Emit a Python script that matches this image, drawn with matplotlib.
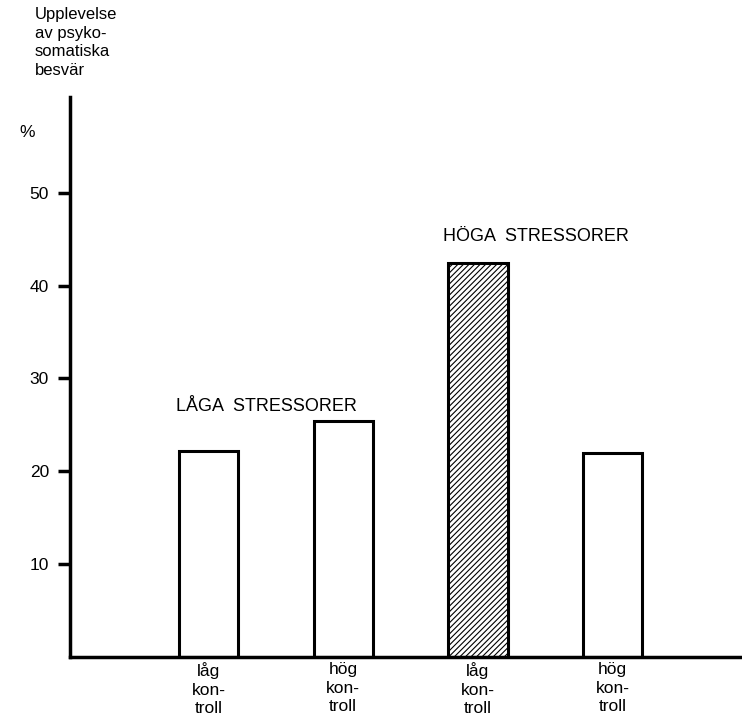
import matplotlib.pyplot as plt

plt.rcParams['font.family'] = ['Liberation Sans', 'DejaVu Sans']
plt.rcParams['hatch.linewidth'] = 0.8

# Data
kategorier = ['låg\nkon-\ntroll', 'hög\nkon-\ntroll', 'låg\nkon-\ntroll', 'hög\nkon-\ntroll']
procent = [22.2, 25.4, 42.5, 22.0]
skrafferad = [False, False, True, False]
y_ticks = [10, 20, 30, 40, 50]

fig = plt.figure(figsize=(7.42, 7.16), dpi=100)
ax = fig.add_axes([0.094, 0.083, 0.906, 0.782])

x = range(len(procent))
for xi, v, h in zip(x, procent, skrafferad):
    ax.bar(xi, v, width=0.44, facecolor='white', edgecolor='black',
           linewidth=2.2, hatch='//////' if h else None)

ax.set_xlim(-1.03, 3.96)
ax.set_ylim(0, 60.4)

ax.spines['top'].set_visible(False)
ax.spines['right'].set_visible(False)
ax.spines['left'].set_linewidth(2.5)
ax.spines['bottom'].set_linewidth(2.5)

ax.set_yticks(y_ticks)
ax.set_yticklabels([str(t) for t in y_ticks], fontsize=12.5)
ax.tick_params(axis='y', length=9, width=2.5, pad=6)
ax.set_xticks(list(x))
ax.set_xticklabels(kategorier, fontsize=12.5, linespacing=1.3)
ax.tick_params(axis='x', length=0, pad=4)

ax.text(-0.24, 27.0, 'LÅGA  STRESSORER', fontsize=13, va='center', ha='left')
ax.text(1.74, 45.3, 'HÖGA  STRESSORER', fontsize=13, va='center', ha='left')

fig.text(0.047, 0.99, 'Upplevelse\nav psyko-\nsomatiska\nbesvär', fontsize=12,
         va='top', ha='left', linespacing=1.3)
fig.text(0.026, 0.815, '%', fontsize=12.5, va='center', ha='left')

fig.savefig('out.png', dpi=100)
